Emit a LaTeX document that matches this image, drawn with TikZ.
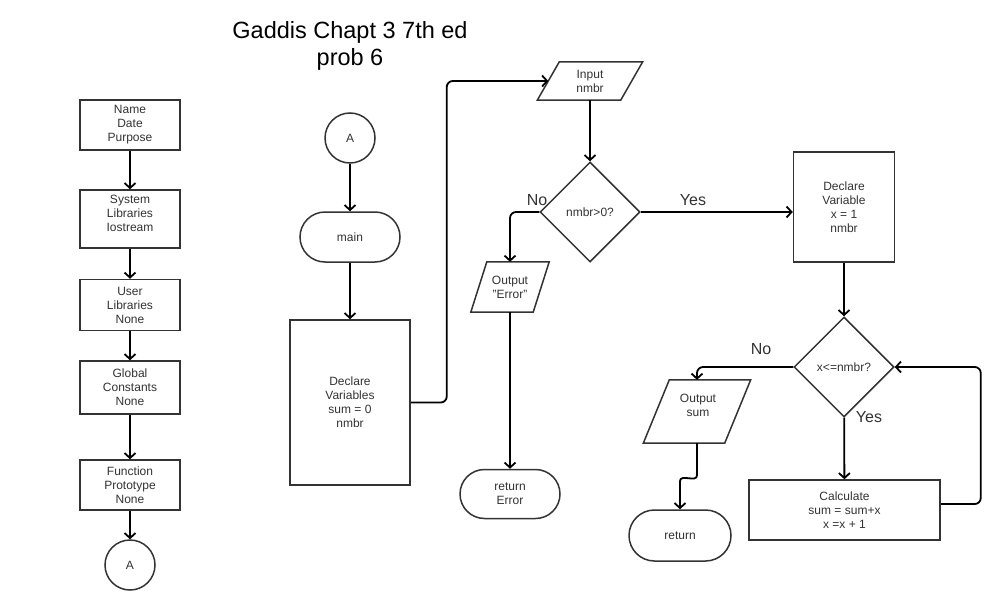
\documentclass[tikz,border=0pt]{standalone}
\usepackage{fontspec}
\setmainfont{Liberation Sans}
\usetikzlibrary{arrows.meta,shapes.geometric,calc}
\definecolor{ink}{HTML}{333333}
\newcommand{\slantbox}[2]{\draw[shp] ([xshift=#2]#1.north west) -- ([xshift=#2]#1.north east) -- ([xshift=-#2]#1.south east) -- ([xshift=-#2]#1.south west) -- cycle;}
\begin{document}
\begin{tikzpicture}[x=1pt,y=-1pt,
  every node/.style={font=\fontsize{12}{14}\selectfont, text=ink, align=center, inner sep=0pt},
  shp/.style={draw=ink, line width=1.5pt},
  box/.style={shp, rectangle},
  term/.style={shp, rectangle, rounded corners=24.5pt, minimum width=100pt, minimum height=49pt},
  circ/.style={shp, circle, minimum size=50pt},
  dia/.style={shp, diamond, minimum width=100pt, minimum height=100pt},
  para/.style={rectangle},
  conn/.style={draw=black, line width=1.8pt, rounded corners=6pt, -{Straight Barb[length=5pt,width=11pt]}},
  lbl/.style={font=\fontsize{16}{18}\selectfont, text=ink}]
\fill[white] (0,0) rectangle (1004,610);
\useasboundingbox (0,0) rectangle (1004,610);

% title
\node[font=\fontsize{23.5}{27}\selectfont, text=black] (title) at (350,46) {Gaddis Chapt 3 7th ed\\prob 6};

% left column
\node[box, minimum width=100pt, minimum height=50pt] (hdr) at (130,125) {Name\\Date\\Purpose};
\node[box, minimum width=100pt, minimum height=58pt] (sys) at (130,219) {};
\node (systxt) at (130,213) {System\\Libraries\\Iostream};
\node[box, minimum width=100pt, minimum height=51pt] (usr) at (130,305) {User\\Libraries\\None};
\node[box, minimum width=100pt, minimum height=53pt] (glb) at (130,387.5) {Global\\Constants\\None};
\node[box, minimum width=100pt, minimum height=50pt] (fn) at (130,485) {Function\\Prototype\\None};
\node[circ] (a1) at (130,565) {A};

% middle column
\node[circ] (a2) at (350,138) {A};
\node[term, minimum height=50pt, rounded corners=25pt] (main) at (350,237) {main};
\node[box, minimum width=120pt, minimum height=165pt] (decl) at (350,402.5) {Declare\\Variables\\sum = 0\\nmbr};

% input / first decision
\node[para, minimum width=83pt, minimum height=38pt] (inp) at (590,81) {Input\\nmbr};
\slantbox{inp}{11pt}
\node[dia] (q1) at (590,212) {nmbr>0?};
\node[para, minimum width=62pt, minimum height=50pt] (oerr) at (510,287) {Output\\"Error"};
\slantbox{oerr}{8pt}
\node[term] (rerr) at (510,494) {return\\Error};

% right part
\node[box, minimum width=101pt, minimum height=110pt] (decv) at (844,207) {Declare\\Variable\\x = 1\\nmbr};
\node[dia] (q2) at (844,367) {x<=nmbr?};
\node[box, minimum width=191pt, minimum height=60pt] (calc) at (844.5,510) {Calculate\\sum = sum+x\\x =x + 1};
\node[para, minimum width=81pt, minimum height=63pt] (osum) at (697,411.5) {};
\slantbox{osum}{13pt}
\node (osumtxt) at (698,405) {Output\\sum};
\node[term, minimum width=102pt, minimum height=51pt, rounded corners=25.5pt] (rsum) at (680,535.5) {return};

% labels
\node[lbl] (yes1) at (693,200) {Yes};
\node[lbl] (no1) at (537,200) {No};
\node[lbl] (yes2) at (869,417) {Yes};
\node[lbl] (no2) at (761,349) {No};

% connectors
\draw[conn] (hdr) -- (sys);
\draw[conn] (sys) -- (usr);
\draw[conn] (usr) -- (glb);
\draw[conn] (glb) -- (fn);
\draw[conn] (fn) -- (a1);
\draw[conn] (a2) -- (main);
\draw[conn] (main) -- (decl);
\draw[conn] (decl.east) -- ++(36,0) |- (inp.west);
\draw[conn] (inp) -- (q1);
\draw[conn] (q1.east) -- (q1.east -| decv.west);
\draw[conn] (q1.west) -| (oerr.north);
\draw[conn] (oerr) -- (rerr);
\draw[conn] (decv) -- (q2);
\draw[conn] (q2) -- (calc);
\draw[conn] (q2.west) -| (osum.north);
\draw[conn] ([yshift=6pt]calc.east) -- ++(40,0) |- (q2.east);
\draw[conn] (osum.south) -- ++(0,26) .. controls +(0,14) and +(0,-14) .. ($(rsum.north)+(0,-22)$) -- (rsum.north);
\end{tikzpicture}
\end{document}
